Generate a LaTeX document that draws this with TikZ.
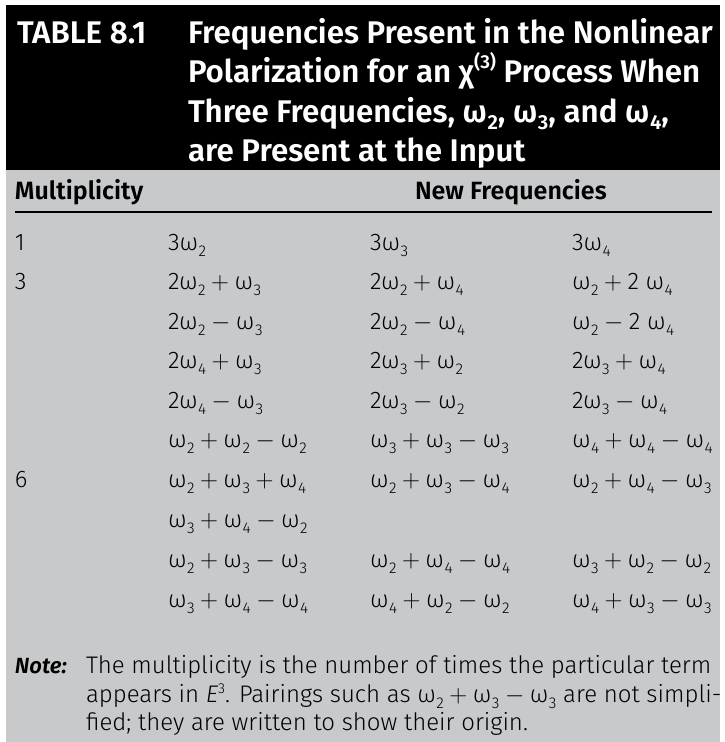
\documentclass[tikz,border=0pt]{standalone}
\usepackage{fontspec}
\setmainfont{Fira Sans}[UprightFont={* Light}, ItalicFont={* Light Italic}, BoldFont={* SemiBold}, BoldItalicFont={* SemiBold Italic}]
\newfontfamily\boldfam{Fira Sans}[UprightFont={* SemiBold}]
\definecolor{panel}{RGB}{200,201,203}
\newcommand\sbs[1]{\kern0.02em\raisebox{-0.25em}{\scalebox{0.65}{#1}}}
\newcommand\w[1]{ω\sbs{#1}}
\newcommand\pl{\ensuremath{{}+{}}}
\newcommand\mi{\ensuremath{{}-{}}}
\newcommand\cellfont{\fontsize{24}{28}\selectfont}
\newcommand\ttlfont{\boldfam\fontsize{31.3}{36}\selectfont}
\newcommand\hdrfont{\boldfam\fontsize{25}{29}\selectfont}
\tikzset{
  base/.style={anchor=base west, inner sep=0pt, outer sep=0pt},
  cell/.style={base, font=\cellfont},
  ttl/.style={base, text=white, font=\ttlfont},
  hdr/.style={base, font=\hdrfont},
}
\begin{document}
\begin{tikzpicture}[x=1pt,y=-1pt]
\useasboundingbox (0,0) rectangle (725,742);
\fill[white] (0,0) rectangle (725,742);
\fill[panel] (6,170) rectangle (720,742);
\fill[black] (6,5) rectangle (720,170);
% title
\node[ttl] (tnum) at (17,43) {TABLE 8.1};
\node[ttl] (t1) at (188,43) {Frequencies Present in the Nonlinear};
\node[ttl] (t2) at (188,82.5) {Polarization for an χ\raisebox{0.45em}{\scalebox{0.6}{(3)}} Process When};
\node[ttl] (t3) at (188,122) {Three Frequencies, \w{2}, \w{3}, and \w{4},};
\node[ttl] (t4) at (188,161) {are Present at the Input};
% header
\node[hdr] (hm) at (15,199) {Multiplicity};
\node[hdr] (hn) at (415,199) {New Frequencies};
\coordinate (rl) at (15,212);
\coordinate (rr) at (712,212);
\draw[line width=1.3pt] (rl) -- (rr);
% rows
\node[cell] (r1a) at (15,250) {1};
\node[cell] (r1b) at (168,250) {3\w{2}};
\node[cell] (r1c) at (370,250) {3\w{3}};
\node[cell] (r1d) at (572,250) {3\w{4}};
\node[cell] (r2a) at (15,289.5) {3};
\node[cell] (r2b) at (168,289.5) {2\w{2}\pl\w{3}};
\node[cell] (r2c) at (370,289.5) {2\w{2}\pl\w{4}};
\node[cell] (r2d) at (572,289.5) {\w{2}\pl 2 \w{4}};
\node[cell] (r3b) at (168,329) {2\w{2}\mi\w{3}};
\node[cell] (r3c) at (370,329) {2\w{2}\mi\w{4}};
\node[cell] (r3d) at (572,329) {\w{2}\mi 2 \w{4}};
\node[cell] (r4b) at (168,368.5) {2\w{4}\pl\w{3}};
\node[cell] (r4c) at (370,368.5) {2\w{3}\pl\w{2}};
\node[cell] (r4d) at (572,368.5) {2\w{3}\pl\w{4}};
\node[cell] (r5b) at (168,408) {2\w{4}\mi\w{3}};
\node[cell] (r5c) at (370,408) {2\w{3}\mi\w{2}};
\node[cell] (r5d) at (572,408) {2\w{3}\mi\w{4}};
\node[cell] (r6b) at (168,447.5) {\w{2}\pl\w{2}\mi\w{2}};
\node[cell] (r6c) at (370,447.5) {\w{3}\pl\w{3}\mi\w{3}};
\node[cell] (r6d) at (572,447.5) {\w{4}\pl\w{4}\mi\w{4}};
\node[cell] (r7a) at (15,487) {6};
\node[cell] (r7b) at (168,487) {\w{2}\pl\w{3}\pl\w{4}};
\node[cell] (r7c) at (370,487) {\w{2}\pl\w{3}\mi\w{4}};
\node[cell] (r7d) at (572,487) {\w{2}\pl\w{4}\mi\w{3}};
\node[cell] (r8b) at (168,527) {\w{3}\pl\w{4}\mi\w{2}};
\node[cell] (r9b) at (168,567) {\w{2}\pl\w{3}\mi\w{3}};
\node[cell] (r9c) at (370,567) {\w{2}\pl\w{4}\mi\w{4}};
\node[cell] (r9d) at (572,567) {\w{3}\pl\w{2}\mi\w{2}};
\node[cell] (r10b) at (168,607) {\w{3}\pl\w{4}\mi\w{4}};
\node[cell] (r10c) at (370,607) {\w{4}\pl\w{2}\mi\w{2}};
\node[cell] (r10d) at (572,607) {\w{4}\pl\w{3}\mi\w{3}};
% note
\node[cell, font=\fontsize{22}{26}\selectfont] (nlab) at (15,673) {\textbf{\textit{Note:}}};
\node[cell] (n1) at (86,673) {The multiplicity is the number of times the particular term};
\node[cell] (n2) at (86,702) {appears in \textit{E}\raisebox{0.36em}{\scalebox{0.6}{3}}. Pairings such as \w{2}\pl\w{3}\mi\w{3} are not simpli-};
\node[cell] (n3) at (86,730) {fied; they are written to show their origin.};
\end{tikzpicture}
\end{document}
